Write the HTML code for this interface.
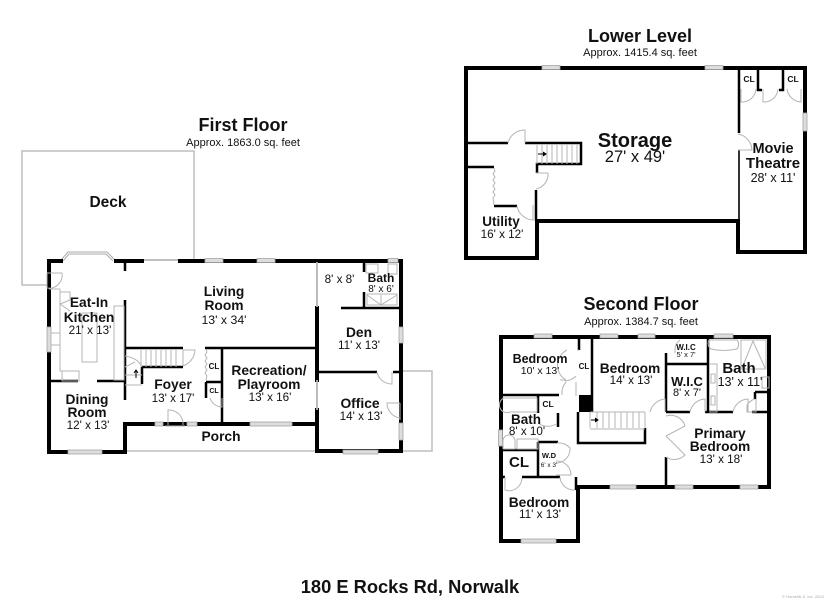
<!DOCTYPE html>
<html><head><meta charset="utf-8">
<style>
html,body{margin:0;padding:0;background:#fff;width:825px;height:600px;overflow:hidden}
svg{display:block}
text{font-family:"Liberation Sans",sans-serif;text-anchor:middle;fill:#111}
.b{font-weight:bold}
.r{font-weight:bold;font-size:13.800px}
.d{font-size:11.700px}
.w path{fill:none;stroke:#000;stroke-width:4;stroke-linecap:square}
.t path{fill:none;stroke:#000;stroke-width:2.500;stroke-linecap:butt}
.g path,.g rect,.g circle{fill:none;stroke:#b4b4b4;stroke-width:1}
.win rect{fill:#ddd;stroke:#a5a5a5;stroke-width:.8}
.deck{fill:none;stroke:#bdbdbd;stroke-width:1.500}
</style></head><body>
<svg width="825" height="600" viewBox="0 0 825 600" xmlns="http://www.w3.org/2000/svg">
<rect width="825" height="600" fill="#fff"/>

<!-- FIRST FLOOR -->
<path class="deck" d="M47 285H22V151H194V260"/>
<path class="deck" d="M127 451H315M400 371H432V451H400"/>
<path class="deck" style="stroke-width:1;stroke:#aaa" d="M61 260L68 252H107L115 260M63 261L69 254H106L113 261"/>
<path class="deck" style="stroke:#aaa" d="M143 260H179"/>
<g class="w"><path d="M49 285V452H125V424H316M61 261H49V270M116 261H142M180 261H401V451H317V410M317 380V308M49 270V285"/></g>
<g class="t"><path d="M125 260V271M125 300V400M49 381H78M97 381H125M125 348H183M142 367H183M142 367V384M205 348H317M222 348V423M206 382H222M206 382V398M341 308H400M364 262V272M364 292V308M317 372H377M393 372H400"/></g>
<g class="win">
<rect x="205" y="258.500" width="18" height="4"/><rect x="257" y="258.500" width="18" height="4"/>
<rect x="47" y="327" width="4" height="25"/><rect x="68" y="450" width="34" height="4"/>
<rect x="155" y="422" width="8" height="4"/><rect x="187" y="422" width="10" height="4"/>
<rect x="250" y="422" width="42" height="4"/><rect x="343" y="450" width="35" height="4"/>
<rect x="399" y="327" width="4" height="16"/><rect x="399" y="423" width="4" height="17"/>
<rect x="388" y="258.500" width="10" height="4"/>
</g>
<g class="g">
<path d="M47 273H62A13 13 0 0 1 47 288M47 273V288"/>
<path d="M60 289V371H79V381H62V371M49 289H60M60 292H70V300L60 304L70 311"/>
<rect x="51" y="333" width="9" height="12"/><rect x="82" y="313" width="15" height="49"/>
<path d="M114 306H124V380H114Z"/>
<path d="M183 350H195A18 18 0 0 1 183 366M183 350V366"/>
<path d="M125 356Q138 358 142 367M125 367L135 362M125 375H142M125 385H142"/>
<path d="M141 350V367M146 350V367M151 350V367M156 350V367M161 350V367M166 350V367M171 350V367M176 350V367"/>
<path d="M206 349L207 352L205 355L207 358L205 361L207 364L205 367L207 370L205 373L207 376L206 380"/>
<path d="M210 398A13 13 0 0 0 222 407V398"/>
<path d="M168 425V410A14 14 0 0 1 183 425M165 426H185"/>
<path style="stroke-width:1.800" d="M317 262V307M317 380V410"/>
<path d="M377 372A15 15 0 0 0 392 384V372"/>
<path d="M400 403H387A15 15 0 0 0 400 418M400 403V420"/>
<path d="M366 264H378V273H366ZM388 264H397V274H388ZM367 294H397V305H367ZM367 295L381 305L397 295M381 295V305"/>
</g>
<path d="M136 378V371M134 373L136 370L138 373" stroke="#000" fill="none" stroke-width="1"/>

<!-- LOWER LEVEL -->
<g class="w"><path d="M466 68H805V252H738V221H537V258H466Z"/></g>
<g class="t"><path d="M465 143H508M525 143H581V164H537V173M465 167H494M494 206H517M536 190V221M739 68V133M758 67V90H762M783 67V90H779"/></g>
<path d="M739 150V221" stroke="#000" stroke-width="1.600" fill="none"/>
<g class="win"><rect x="542" y="65.500" width="18" height="4"/><rect x="705" y="65.500" width="18" height="4"/><rect x="803" y="113" width="4" height="18"/></g>
<g class="g">
<path d="M508 143A17 17 0 0 1 525 130V143"/>
<path d="M536 173H548A15 15 0 0 1 536 189"/>
<path d="M517 206A17 17 0 0 0 533 220V205"/>
<path d="M494 168L495 171L493 174L495 177L493 180L495 183L493 186L495 189L493 192L495 195L493 198L494 205"/>
<path d="M738 134A17 17 0 0 1 752 150H738"/>
<path d="M741 89V102A14 14 0 0 0 756 89M763 89V102A14 14 0 0 0 778 89M787 89A15 15 0 0 0 801 102V89"/>
<path d="M537 145V164M542 145V164M547 145V164M552 145V164M557 145V164M562 145V164M567 145V164M572 145V164M577 145V164"/>
</g>
<path d="M538 154H545M543 152L546 154L543 156" stroke="#000" fill="#000" stroke-width="1"/>

<!-- SECOND FLOOR -->
<g class="w"><path d="M501 337H769V487H578V541H501Z"/></g>
<g class="t"><path d="M579 337V350M592 337V412M501 395H559M538 395V413M558 413V427M538 442H558M501 450H538M538 442V477M501 477H505M522 477H560M576 477V490M578 412V443H645V428M666 353V412M666 457V487M666 364H707M708 337V412M666 412H690M705 412H733M752 412H770M755 392H770M755 392V399"/></g>
<rect x="579" y="395" width="13" height="17" fill="#000"/>
<g class="win">
<rect x="534" y="334" width="18" height="4"/><rect x="600" y="334" width="18" height="4"/><rect x="638" y="334" width="17" height="4"/><rect x="714" y="334" width="19" height="4"/>
<rect x="498.500" y="430" width="4" height="16"/><rect x="521" y="539" width="35" height="4"/><rect x="610" y="485" width="26" height="4"/><rect x="675" y="485" width="18" height="4"/><rect x="740" y="485" width="18" height="4"/>
</g>
<g class="g">
<path d="M567 350A17 17 0 0 0 566 380M579 350H577M566 380H560M565 381A17 17 0 0 0 576 376"/>
<path d="M566 382A17 17 0 0 0 562 395M576 382V396"/>
<path d="M504 398H537V412H510A7 7 0 0 1 504 398Z"/>
<path d="M538 423A16 16 0 0 0 556 424"/>
<rect x="517" y="439" width="21" height="10"/>
<path d="M503 449V441A6 6 0 0 1 515 441V449H503"/>
<path d="M557 443A16 16 0 0 1 570 448L570 450A14 14 0 0 1 556 463"/>
<path d="M556 461A14 14 0 0 1 571 475H556"/>
<path d="M505 477V490A13 13 0 0 0 522 478"/>
<path d="M560 477A14 14 0 0 0 575 490"/>
<path d="M590 412V428M597 412V428M603 412V428M609 412V428M615 412V428M621 412V428M627 412V428M633 412V428M639 412V428M645 412V428M590 429H645M590 412H645"/>
<path d="M650 412A17 17 0 0 1 665 399V412"/>
<path d="M666 436L685 426A15 15 0 0 0 666 416M666 436L685 455A15 15 0 0 1 666 457"/>
<path d="M675 353V350A12 12 0 0 1 680 340"/>
<path d="M690 412A16 16 0 0 1 705 399V412"/>
<path d="M733 412A16 16 0 0 1 748 399V412"/>
<path d="M709 364H717V412H709M711 374H715V383H711ZM711 396H715V405H711Z"/>
<path d="M709 340H737A7 7 0 0 1 737 349Q723 352 711 349A7 7 0 0 1 709 340Z"/>
<path d="M741 340H766V369H741ZM742 368L753 341L765 368"/>
<path d="M755 399A14 14 0 0 0 747 405V412H756V399"/>
<rect x="762" y="377" width="7" height="11"/>
</g>
<path d="M591 420H597M595 418L598 420L595 422" stroke="#000" fill="#000" stroke-width="1"/>

<!-- LABELS -->
<text class="b" x="243" y="131" font-size="18">First Floor</text>
<text x="243" y="146" font-size="11">Approx. 1863.0 sq. feet</text>
<text class="b" x="640" y="42" font-size="18">Lower Level</text>
<text x="640" y="56" font-size="11">Approx. 1415.4 sq. feet</text>
<text class="b" x="641" y="310" font-size="18">Second Floor</text>
<text x="641" y="325" font-size="11">Approx. 1384.7 sq. feet</text>

<text class="b" x="108" y="207" font-size="15.500">Deck</text>
<text class="r" x="89" y="307">Eat-In</text>
<text class="r" x="89" y="322">Kitchen</text>
<text class="d" x="90" y="334">21' x 13'</text>
<text class="r" x="87" y="404">Dining</text>
<text class="r" x="87" y="417">Room</text>
<text class="d" x="88" y="429">12' x 13'</text>
<text class="r" x="173" y="389">Foyer</text>
<text class="d" x="173" y="402">13' x 17'</text>
<text class="r" x="224" y="296">Living</text>
<text class="r" x="224" y="310">Room</text>
<text class="d" x="224" y="324" style="font-size:12.300px">13' x 34'</text>
<text class="r" x="269" y="375">Recreation/</text>
<text class="r" x="269" y="389">Playroom</text>
<text class="d" x="270" y="401">13' x 16'</text>
<text class="r" x="221" y="441">Porch</text>
<text class="d" x="339.500" y="283">8' x 8'</text>
<text class="b" x="381" y="282" font-size="12">Bath</text>
<text x="381" y="292" font-size="10">8' x 6'</text>
<text class="r" x="359" y="337">Den</text>
<text class="d" x="359" y="349">11' x 13'</text>
<text class="r" x="360" y="408">Office</text>
<text class="d" x="361" y="420">14' x 13'</text>
<text class="b" x="214" y="369" font-size="8">CL</text>
<text class="b" x="214" y="393" font-size="7">CL</text>

<text class="b" x="635" y="147" font-size="20">Storage</text>
<text x="635" y="162" font-size="16.500">27' x 49'</text>
<text class="b" x="501" y="226" font-size="13.500">Utility</text>
<text class="d" x="502" y="238">16' x 12'</text>
<text class="b" x="773" y="153" font-size="14.500">Movie</text>
<text class="b" x="773" y="168" font-size="15">Theatre</text>
<text x="773" y="182" font-size="12.500">28' x 11'</text>
<text class="b" x="749" y="82" font-size="8.500">CL</text>
<text class="b" x="793" y="82" font-size="8.500">CL</text>

<text class="b" x="540" y="363" font-size="12.500">Bedroom</text>
<text x="540" y="374" font-size="10.500">10' x 13'</text>
<text class="r" x="630" y="373">Bedroom</text>
<text class="d" x="631" y="384">14' x 13'</text>
<text class="b" x="584" y="369" font-size="8">CL</text>
<text class="b" x="548" y="407" font-size="8.500">CL</text>
<text class="b" x="526" y="424" font-size="13.500">Bath</text>
<text class="d" x="527" y="435">8' x 10'</text>
<text class="b" x="519" y="467" font-size="15">CL</text>
<text class="b" x="549" y="458" font-size="7.500">W.D</text>
<text x="549" y="467" font-size="6.500">6' x 3'</text>
<text class="r" x="539" y="507">Bedroom</text>
<text class="d" x="540" y="518">11' x 13'</text>
<text class="b" x="686" y="350" font-size="8">W.I.C</text>
<text x="686" y="357" font-size="7.500">5' x 7'</text>
<text class="b" x="687" y="386" font-size="13">W.I.C</text>
<text x="687" y="396" font-size="11">8' x 7'</text>
<text class="b" x="739" y="373" font-size="15">Bath</text>
<text x="740" y="386" font-size="12.500">13' x 11'</text>
<text class="r" x="720" y="438">Primary</text>
<text class="r" x="720" y="451">Bedroom</text>
<text class="d" x="721" y="463">13' x 18'</text>

<text class="b" x="410" y="593" font-size="18.300">180 E Rocks Rd, Norwalk</text>
<text x="803" y="598" font-size="4" style="fill:#aaa">© HomeMLS, Inc. 2024</text>
</svg>
</body></html>
